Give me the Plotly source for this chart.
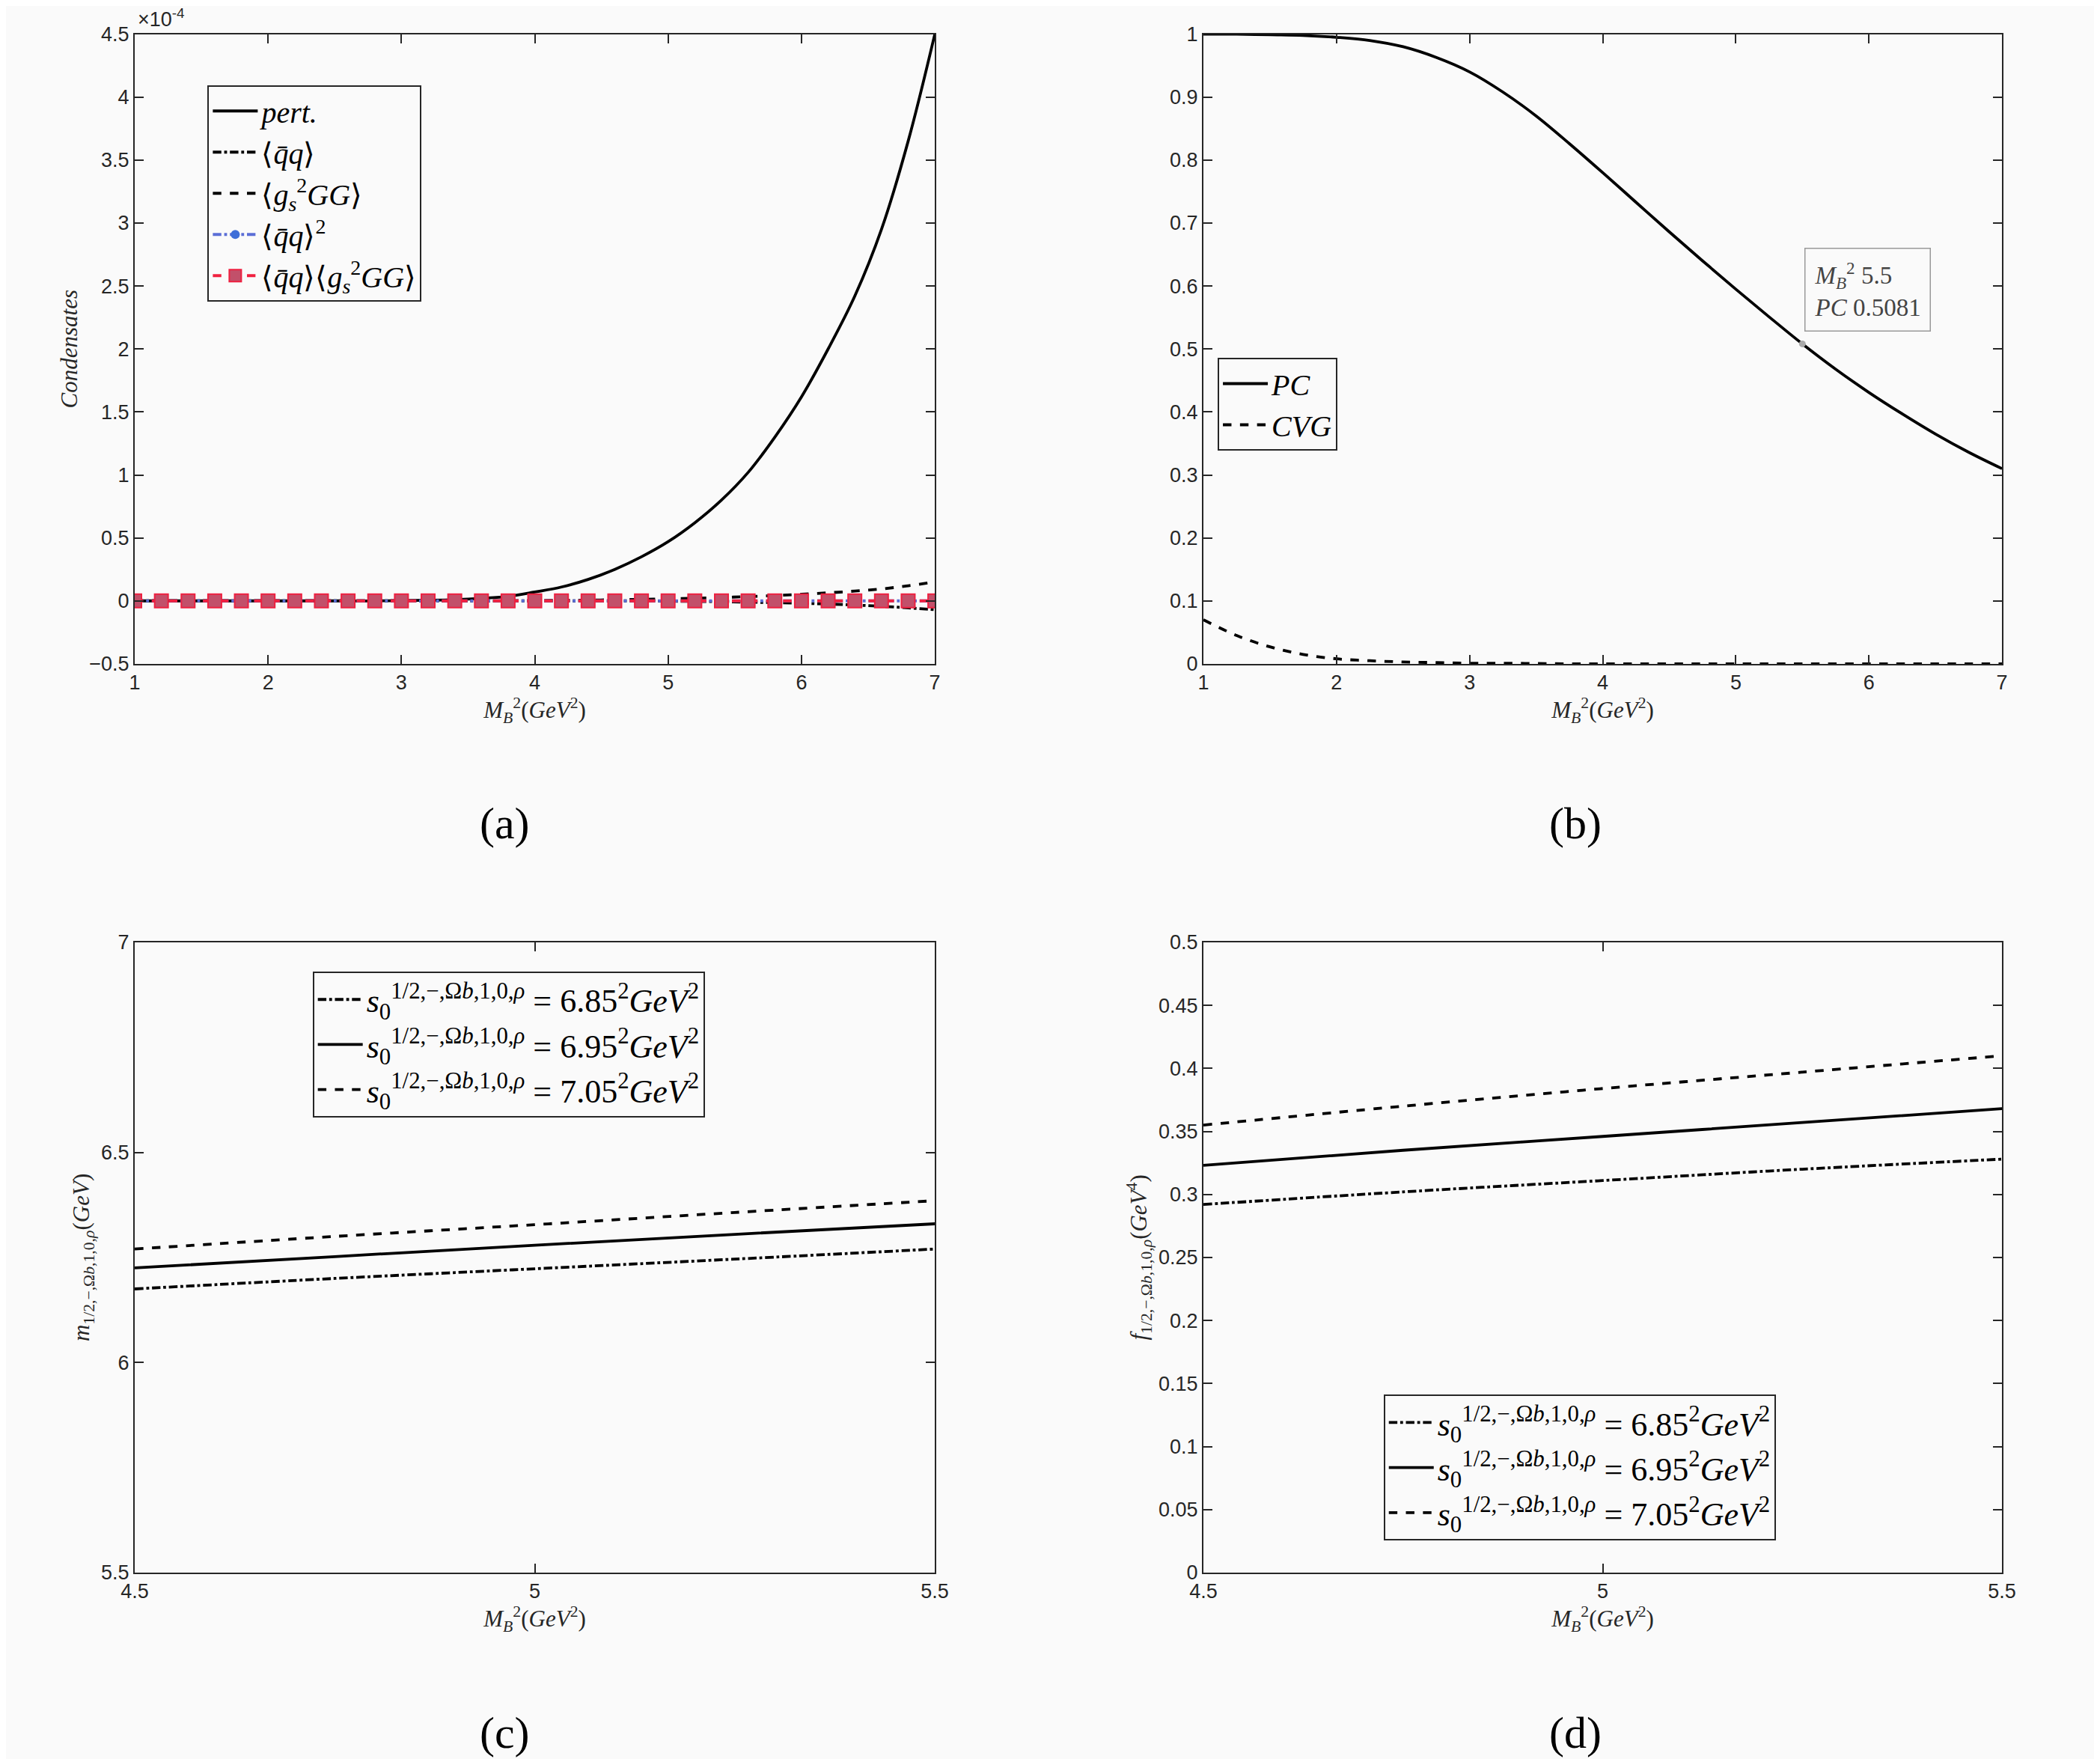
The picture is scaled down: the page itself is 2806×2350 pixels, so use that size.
import plotly.graph_objects as go

# ---- data ----
xa = [round(1 + 0.2 * i, 1) for i in range(31)]
pert = [0, 0, 0, 0, 0, 0, 0, 0, 0, 0, 0.002, 0.005, 0.01, 0.02, 0.035, 0.07, 0.11, 0.17,
        0.25, 0.35, 0.47, 0.62, 0.8, 1.02, 1.3, 1.62, 2.0, 2.42, 2.95, 3.65, 4.5]
qq = [0]*20 + [-0.002, -0.004, -0.006, -0.01, -0.014, -0.019, -0.025, -0.033, -0.043, -0.055, -0.07]
g2gg = [0]*15 + [0.002, 0.004, 0.006, 0.009, 0.012, 0.016, 0.021, 0.027, 0.034, 0.042,
                 0.052, 0.064, 0.078, 0.095, 0.12, 0.15]
qq2 = [0]*31
qqg2gg = [0]*31

xb = [1, 1.25, 1.5, 1.75, 2, 2.25, 2.5, 2.75, 3, 3.25, 3.5, 3.75, 4, 4.25, 4.5, 4.75,
      5, 5.25, 5.5, 5.75, 6, 6.25, 6.5, 6.75, 7]
pc = [1.0, 1.0, 0.999, 0.998, 0.995, 0.99, 0.98, 0.963, 0.94, 0.908, 0.87, 0.826, 0.78,
      0.733, 0.686, 0.64, 0.595, 0.551, 0.5081, 0.468, 0.431, 0.397, 0.365, 0.336, 0.31]
cvg = [0.07, 0.045, 0.027, 0.015, 0.008, 0.005, 0.003, 0.002, 0.001, 0.001, 0.0005, 0, 0,
       0, 0, 0, 0, 0, 0, 0, 0, 0, 0, 0, 0]

xc = [4.5, 4.75, 5.0, 5.25, 5.5]
m685 = [6.175, 6.2, 6.223, 6.246, 6.27]
m695 = [6.225, 6.252, 6.279, 6.305, 6.33]
m705 = [6.27, 6.3, 6.328, 6.357, 6.385]
f685 = [0.292, 0.302, 0.311, 0.32, 0.328]
f695 = [0.323, 0.335, 0.346, 0.357, 0.368]
f705 = [0.355, 0.37, 0.384, 0.397, 0.41]

s0lab = "<i>s</i><sub>0</sub><sup>1/2,−,Ω<i>b</i>,1,0,<i>ρ</i></sup> = %s<sup>2</sup><i>GeV</i><sup>2</sup>"
labs = [s0lab % "6.85", s0lab % "6.95", s0lab % "7.05"]

fig = go.Figure()
K = "black"
def add(x, y, name, dash, xa_, ya_, leg, color=K, width=3.8, marker=None, show=True):
    kw = dict(mode="lines", line_shape="spline")
    if marker:
        kw = dict(mode="lines+markers", marker=marker)
    fig.add_trace(go.Scatter(x=x, y=y, name=name, line=dict(color=color, dash=dash, width=width),
                             xaxis=xa_, yaxis=ya_, legend=leg, showlegend=show, **kw))

add(xa, pert, "<i>pert.</i>", "solid", "x", "y", "legend")
add(xa, qq, "⟨<i>q̄q</i>⟩", "dashdot", "x", "y", "legend")
add(xa, g2gg, "⟨<i>g</i><sub><i>s</i></sub><sup>2</sup><i>GG</i>⟩", "dash", "x", "y", "legend")
add(xa, qq2, "⟨<i>q̄q</i>⟩<sup>2</sup>", "dashdot", "x", "y", "legend", color="#5b6ed6",
    marker=dict(symbol="circle", size=12, color="#3f6fd8"))
add(xa, qqg2gg, "⟨<i>q̄q</i>⟩⟨<i>g</i><sub><i>s</i></sub><sup>2</sup><i>GG</i>⟩", "dash", "x", "y", "legend",
    color="#f0203f", marker=dict(symbol="square", size=18, color="#c2506a", line=dict(color="#ee2040", width=2)))

add(xb, pc, "<i>PC</i>", "solid", "x2", "y2", "legend2")
add(xb, cvg, "<i>CVG</i>", "dash", "x2", "y2", "legend2")

add(xc, m685, labs[0], "dashdot", "x3", "y3", "legend3")
add(xc, m695, labs[1], "solid", "x3", "y3", "legend3")
add(xc, m705, labs[2], "dash", "x3", "y3", "legend3")
add(xc, f685, labs[0], "dashdot", "x4", "y4", "legend4")
add(xc, f695, labs[1], "solid", "x4", "y4", "legend4")
add(xc, f705, labs[2], "dash", "x4", "y4", "legend4")

fig.add_trace(go.Scatter(x=[5.5], y=[0.5081], mode="markers", marker=dict(color="#aaaaaa", size=9),
                         xaxis="x2", yaxis="y2", showlegend=False))

xd = [[0.0613, 0.4423], [0.5702, 0.9505]]
yd = [[0.626, 0.984], [0.1094, 0.4677]]
tf = dict(family="Liberation Sans, Arial", size=27, color="#262626")
lf = dict(family="Liberation Serif, serif", size=31, color="#262626")
xt = "<i>M</i><sub><i>B</i></sub><sup>2</sup>(<i>GeV</i><sup>2</sup>)"

def ax(dom, rng, dtick, anchor, title=None):
    d = dict(domain=dom, range=rng, showline=True, mirror="ticks", linecolor="#262626", linewidth=2,
             ticks="inside", ticklen=12, tickwidth=2, tickcolor="#262626", showgrid=False,
             zeroline=False, tickfont=tf, anchor=anchor, automargin=False,
             dtick=dtick, tick0=rng[0], tickformat="~g")
    if title:
        d.update(title=dict(text=title, font=lf, standoff=6))
    return d

fig.update_layout(
    width=2806, height=2350, margin=dict(l=0, r=0, t=0, b=0, autoexpand=False),
    paper_bgcolor="#fafafa", plot_bgcolor="#fafafa",
    xaxis=ax(xd[0], [1, 7], 1, "y", xt),
    yaxis=ax(yd[0], [-0.5, 4.5], 0.5, "x", "<i>Condensates</i>"),
    xaxis2=ax(xd[1], [1, 7], 1, "y2", xt),
    yaxis2=ax(yd[0], [0, 1], 0.1, "x2"),
    xaxis3=ax(xd[0], [4.5, 5.5], 0.5, "y3", xt),
    yaxis3=ax(yd[1], [5.5, 7], 0.5, "x3", "<i>m</i><sub>1/2,−,Ω<i>b</i>,1,0,<i>ρ</i></sub>(<i>GeV</i>)"),
    xaxis4=ax(xd[1], [4.5, 5.5], 0.5, "y4", xt),
    yaxis4=ax(yd[1], [0, 0.5], 0.05, "x4", "<i>f</i><sub>1/2,−,Ω<i>b</i>,1,0,<i>ρ</i></sub>(<i>GeV</i><sup>4</sup>)"),
)

legbase = dict(bgcolor="#fafafa", bordercolor="#262626", borderwidth=2,
               font=dict(family="Liberation Serif, serif", size=40, color="black"),
               xanchor="left", yanchor="top", tracegroupgap=0, itemwidth=60)
fig.update_layout(
    legend=dict(legbase, x=0.096, y=0.955),
    legend2=dict(legbase, x=0.577, y=0.800),
    legend3=dict(legbase, x=0.146, y=0.4510, font=dict(legbase["font"], size=44)),
    legend4=dict(legbase, x=0.656, y=0.2105, font=dict(legbase["font"], size=44)),
)

ann = [
    dict(text="×10<sup>-4</sup>", x=0.062, y=0.985, xref="paper", yref="paper", xanchor="left",
         yanchor="bottom", showarrow=False, font=tf),
    dict(text="<i>M</i><sub><i>B</i></sub><sup>2</sup> 5.5<br><i>PC</i> 0.5081", x=0.8565, y=0.8625,
         xref="paper", yref="paper", xanchor="left", yanchor="top", showarrow=False, align="left",
         font=dict(family="Liberation Serif, serif", size=33, color="#444"),
         bgcolor="#fafafa", bordercolor="#999", borderwidth=1.5, borderpad=12),
]
for t, x, y in [("(a)", 0.2377, 0.5353), ("(b)", 0.7473, 0.5353), ("(c)", 0.2377, 0.0183), ("(d)", 0.7473, 0.0183)]:
    ann.append(dict(text=t, x=x, y=y, xref="paper", yref="paper", showarrow=False,
                    xanchor="center", yanchor="middle",
                    font=dict(family="Liberation Serif, serif", size=60, color="black")))
fig.update_layout(annotations=ann)

fig.write_html("out.html")
